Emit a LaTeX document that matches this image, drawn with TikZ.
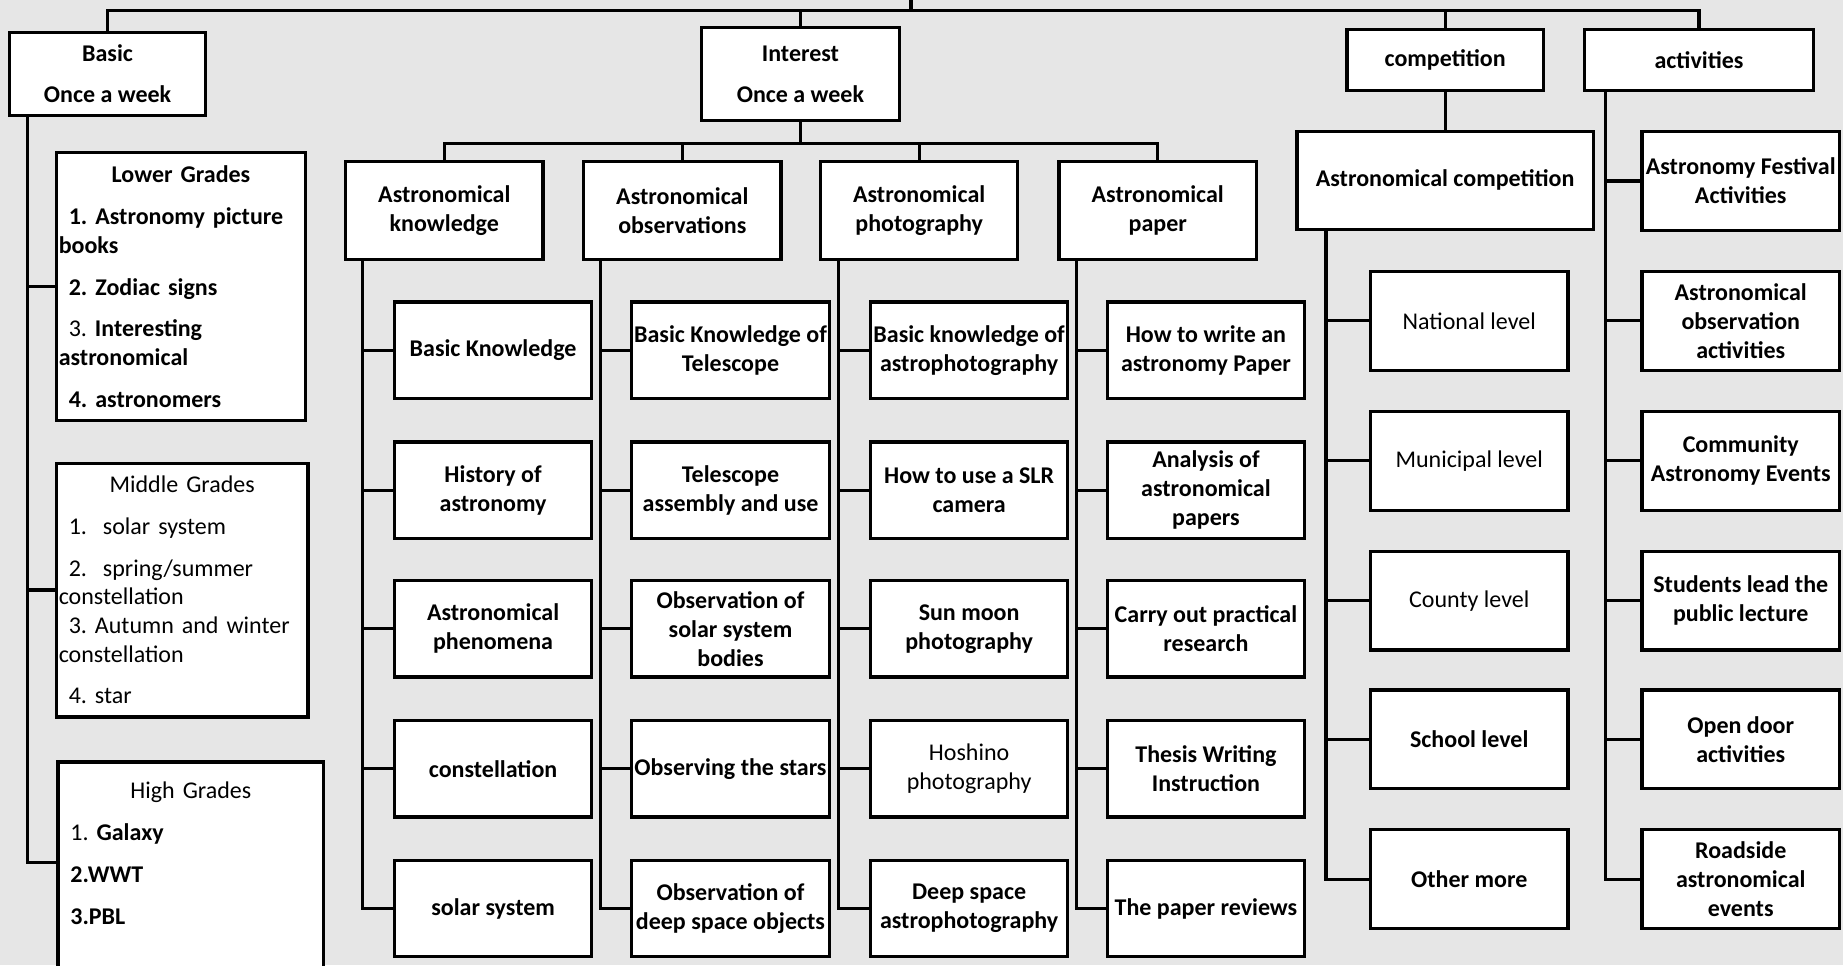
\documentclass[tikz,border=0pt]{standalone}
\usepackage{fontspec}
\setmainfont{Carlito}
\frenchspacing
\newlength{\px}
\setlength{\px}{0.5877pt}
\definecolor{bgcol}{RGB}{230,230,230}

\begin{document}
\begin{tikzpicture}[x=0.5877pt,y=-0.5877pt,
  wire/.style={line width=1.6pt},
  box/.style={draw,line width=1.6pt,fill=white,inner sep=1pt,align=center,font=\fontsize{12}{14.6}\selectfont\bfseries},
  light/.style={font=\fontsize{12}{14.6}\selectfont\mdseries},
  sz/.style 2 args={minimum width=#1\px,minimum height=#2\px},
  kid/.style={box,sz={168}{82}},
  lvl/.style={box,sz={168}{84}},
  grade/.style={draw,line width=1.6pt,fill=white,align=left,inner xsep=2\px,text width=#1\px,font=\fontsize{12}{14.3}\selectfont\bfseries}]
  \fill[bgcol] (0,0) rectangle (1568,821);
  \useasboundingbox (0,0) rectangle (1568,821);

  % first level
  \node[box,sz={167}{71}] (b) at (91.5,63) {Basic\\[6pt]Once a week};
  \node[box,sz={168}{79}] (i) at (681,63) {Interest\\[6pt]Once a week};
  \node[box,sz={167}{52}] (c) at (1229.5,51) {competition};
  \node[box,sz={195}{52}] (a) at (1445.5,51) {activities};

  \coordinate (root) at (775,0);
  \coordinate (bus) at (775,9);
  \draw[wire] (root) -- (bus);
  \draw[wire] (bus) -| (b.north);
  \draw[wire] (bus) -| (i.north);
  \draw[wire] (bus) -| (c.north);
  \draw[wire] (bus) -| (a.north);

  % basic
  \node[grade=208,minimum height=228\px] (lg) at (154,244) {\makebox[\linewidth]{Lower Grades}\\[6.6pt]
    \hspace*{5pt}1. Astronomy picture\\
    books\\[6.6pt]
    \hspace*{5pt}2. Zodiac signs\\[6.6pt]
    \hspace*{5pt}{\mdseries 3.} Interesting\\
    astronomical\\[6.6pt]
    \hspace*{5pt}4. astronomers};
  \node[grade=210,minimum height=216\px,font=\fontsize{12}{14.3}\selectfont\mdseries] (mg) at (155,502) {\makebox[\linewidth]{Middle Grades}\\[6.6pt]
    \hspace*{5pt}1.\ \ solar system\\[6.6pt]
    \hspace*{5pt}2.\ \ spring/summer\\
    constellation\\
    \hspace*{5pt}3. Autumn and winter\\
    constellation\\[6.6pt]
    \hspace*{5pt}4. star};
  \node[grade=222,anchor=north west,inner ysep=10pt] (hg) at (48,647) {\makebox[\linewidth]{\mdseries High Grades}\\[6.6pt]
    \hspace*{5pt}{\mdseries 1.} Galaxy\\[6.6pt]
    \hspace*{5pt}2.WWT\\[6.6pt]
    \hspace*{5pt}3.PBL\\[60pt]\mbox{}};
  \draw[wire] ([xshift=17\px]b.south west) |- (lg.west);
  \draw[wire] ([xshift=17\px]b.south west) |- (mg.west);
  \draw[wire] ([xshift=17\px]b.south west) |- ([yshift=-87\px]hg.north west);

  % interest
  \node[box,sz={168}{83}] (k) at (378,179) {Astronomical\\knowledge};
  \node[box,sz={168}{83}] (o) at (580.5,179) {Astronomical\\observations};
  \node[box,sz={168}{83}] (p) at (782,179) {Astronomical\\photography};
  \node[box,sz={168}{83}] (w) at (985,179) {Astronomical\\paper};
  \draw[wire] (i.south) -- ++(0,18) coordinate (ib);
  \draw[wire] (ib) -| (k.north);
  \draw[wire] (ib) -| (o.north);
  \draw[wire] (ib) -| (p.north);
  \draw[wire] (ib) -| (w.north);

  \node[kid] (k1) at (419.5,298) {Basic Knowledge};
  \node[kid] (k2) at (419.5,417) {History of\\astronomy};
  \node[kid] (k3) at (419.5,535) {Astronomical\\phenomena};
  \node[kid] (k4) at (419.5,654) {constellation};
  \node[kid] (k5) at (419.5,773) {solar system};

  \node[kid] (o1) at (621.5,298) {Basic Knowledge of\\Telescope};
  \node[kid] (o2) at (621.5,417) {Telescope\\assembly and use};
  \node[kid] (o3) at (621.5,535) {Observation of\\solar system\\bodies};
  \node[kid] (o4) at (621.5,654) {Observing the stars};
  \node[kid] (o5) at (621.5,773) {Observation of\\deep space objects};

  \node[kid] (p1) at (824.5,298) {Basic knowledge of\\astrophotography};
  \node[kid] (p2) at (824.5,417) {How to use a SLR\\camera};
  \node[kid] (p3) at (824.5,535) {Sun moon\\photography};
  \node[kid,light] (p4) at (824.5,654) {Hoshino\\photography};
  \node[kid] (p5) at (824.5,773) {Deep space\\astrophotography};

  \node[kid] (w1) at (1026,298) {How to write an\\astronomy Paper};
  \node[kid] (w2) at (1026,417) {Analysis of\\astronomical\\papers};
  \node[kid] (w3) at (1026,535) {Carry out practical\\research};
  \node[kid] (w4) at (1026,654) {Thesis Writing\\Instruction};
  \node[kid] (w5) at (1026,773) {The paper reviews};

  \draw[wire] ([xshift=16\px]k.south west) |- (k1.west);
  \draw[wire] ([xshift=16\px]k.south west) |- (k2.west);
  \draw[wire] ([xshift=16\px]k.south west) |- (k3.west);
  \draw[wire] ([xshift=16\px]k.south west) |- (k4.west);
  \draw[wire] ([xshift=16\px]k.south west) |- (k5.west);
  \draw[wire] ([xshift=16\px]o.south west) |- (o1.west);
  \draw[wire] ([xshift=16\px]o.south west) |- (o2.west);
  \draw[wire] ([xshift=16\px]o.south west) |- (o3.west);
  \draw[wire] ([xshift=16\px]o.south west) |- (o4.west);
  \draw[wire] ([xshift=16\px]o.south west) |- (o5.west);
  \draw[wire] ([xshift=17\px]p.south west) |- (p1.west);
  \draw[wire] ([xshift=17\px]p.south west) |- (p2.west);
  \draw[wire] ([xshift=17\px]p.south west) |- (p3.west);
  \draw[wire] ([xshift=17\px]p.south west) |- (p4.west);
  \draw[wire] ([xshift=17\px]p.south west) |- (p5.west);
  \draw[wire] ([xshift=16\px]w.south west) |- (w1.west);
  \draw[wire] ([xshift=16\px]w.south west) |- (w2.west);
  \draw[wire] ([xshift=16\px]w.south west) |- (w3.west);
  \draw[wire] ([xshift=16\px]w.south west) |- (w4.west);
  \draw[wire] ([xshift=16\px]w.south west) |- (w5.west);

  % competition
  \node[box,sz={252}{83}] (ac) at (1229.5,153.5) {Astronomical competition};
  \draw[wire] (c.south) -- (ac.north);
  \node[lvl,light] (c1) at (1250,273) {National level};
  \node[lvl,light] (c2) at (1250,392) {Municipal level};
  \node[lvl,light] (c3) at (1250,511) {County level};
  \node[lvl] (c4) at (1250,629) {School level};
  \node[lvl] (c5) at (1250,748) {Other more};
  \draw[wire] ([xshift=26\px]ac.south west) |- (c1.west);
  \draw[wire] ([xshift=26\px]ac.south west) |- (c2.west);
  \draw[wire] ([xshift=26\px]ac.south west) |- (c3.west);
  \draw[wire] ([xshift=26\px]ac.south west) |- (c4.west);
  \draw[wire] ([xshift=26\px]ac.south west) |- (c5.west);

  % activities
  \node[lvl] (a1) at (1481,154) {Astronomy Festival\\Activities};
  \node[lvl] (a2) at (1481,273) {Astronomical\\observation\\activities};
  \node[lvl] (a3) at (1481,392) {Community\\Astronomy Events};
  \node[lvl] (a4) at (1481,511) {Students lead the\\public lecture};
  \node[lvl] (a5) at (1481,629) {Open door\\activities};
  \node[lvl] (a6) at (1481,748) {Roadside\\astronomical\\events};
  \draw[wire] ([xshift=19\px]a.south west) |- (a1.west);
  \draw[wire] ([xshift=19\px]a.south west) |- (a2.west);
  \draw[wire] ([xshift=19\px]a.south west) |- (a3.west);
  \draw[wire] ([xshift=19\px]a.south west) |- (a4.west);
  \draw[wire] ([xshift=19\px]a.south west) |- (a5.west);
  \draw[wire] ([xshift=19\px]a.south west) |- (a6.west);
\end{tikzpicture}
\end{document}
